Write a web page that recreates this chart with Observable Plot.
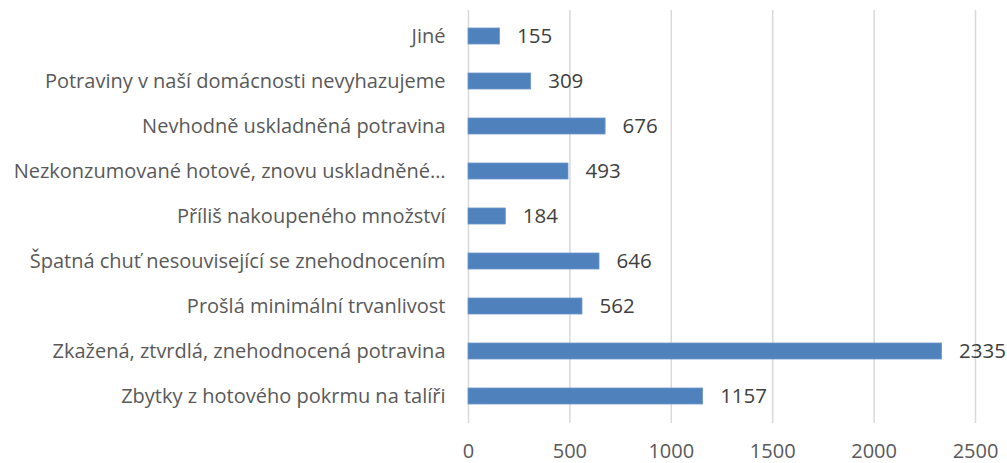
<!DOCTYPE html>
<html>
<head>
<meta charset="utf-8">
<script src="https://cdn.jsdelivr.net/npm/d3@7"></script>
<script src="https://cdn.jsdelivr.net/npm/@observablehq/plot@0.6"></script>
<style>
  html, body { margin: 0; padding: 0; background: #fff; }
  #chart svg { display: block; }
</style>
</head>
<body>
<div id="chart"></div>
<script>
const categories = [
  "Jiné",
  "Potraviny v naší domácnosti nevyhazujeme",
  "Nevhodně uskladněná potravina",
  "Nezkonzumované hotové, znovu uskladněné…",
  "Příliš nakoupeného množství",
  "Špatná chuť nesouvisející se znehodnocením",
  "Prošlá minimální trvanlivost",
  "Zkažená, ztvrdlá, znehodnocená potravina",
  "Zbytky z hotového pokrmu na talíři"
];
const values = [155, 309, 676, 493, 184, 646, 562, 2335, 1157];
const xTicks = [0, 500, 1000, 1500, 2000, 2500];

const data = categories.map((c, i) => ({category: c, value: values[i]}));

const chart = Plot.plot({
  width: 1007,
  height: 463,
  marginLeft: 468,
  marginRight: 32,
  marginTop: 10,
  marginBottom: 40,
  style: {fontFamily: "'Open Sans', sans-serif", fontSize: "20px", color: "#595959", background: "#fff"},
  x: {domain: [0, 2500], ticks: xTicks, label: null},
  y: {domain: categories, label: null, paddingInner: 0.64, paddingOuter: 0.32},
  marks: [
    Plot.gridX(xTicks, {stroke: "#d9d9d9", strokeOpacity: 1, strokeWidth: 1.5}),
    Plot.barX(data, {x: "value", y: "category", fill: "#4f81bd", stroke: "#6f97c9", strokeWidth: 0.8}),
    Plot.text(data, {x: "value", y: "category", text: d => String(d.value), dx: 17, textAnchor: "start", fill: "#404040", fontSize: 20.5}),
    Plot.axisX(xTicks, {tickSize: 0, tickPadding: 20, fill: "#595959", fontSize: 20, label: null, tickFormat: d => String(d)}),
    Plot.axisY({tickSize: 0, tickPadding: 23, fill: "#595959", fontSize: 20, label: null})
  ]
});
document.getElementById("chart").appendChild(chart);
</script>
</body>
</html>
